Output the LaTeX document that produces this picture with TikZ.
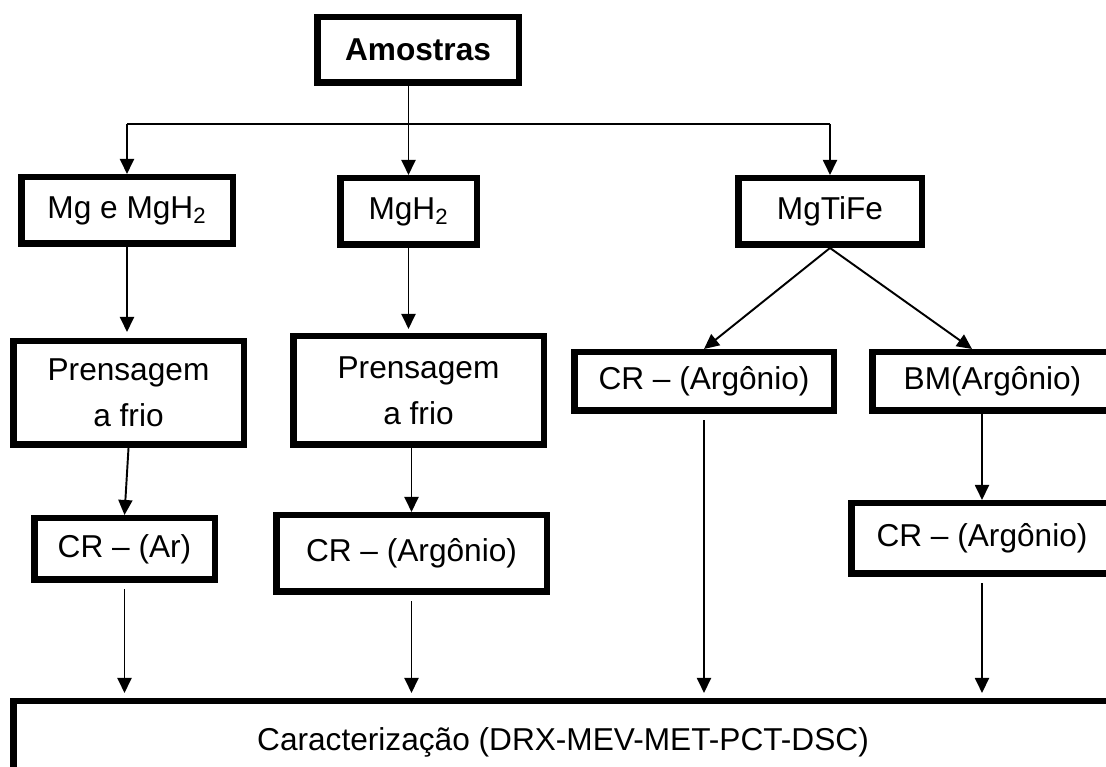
\documentclass[tikz,border=0pt]{standalone}
\usepackage{fontspec}
\setmainfont{Liberation Sans}
\usepackage{tikz}
\usetikzlibrary{arrows.meta}

\begin{document}
\begin{tikzpicture}[>={Triangle[width=0.28cm,length=0.3cm]}, line width=1.1pt,
  box/.style={draw, line width=3.7pt, inner sep=0pt, align=center,
    font=\fontsize{18}{26}\selectfont},
  gap/.style={shorten <=0.13cm, shorten >=0.1cm}]
\useasboundingbox (0,0) rectangle (22.12,15.34);
\node[box, font=\fontsize{18}{26}\selectfont\bfseries, minimum width=4.03cm, minimum height=1.31cm] (am) at (8.36,14.34) {Amostras};
\node[box, minimum width=4.23cm, minimum height=1.33cm] (mg) at (2.54,11.13) {Mg e MgH\textsubscript{2}};
\node[box, minimum width=2.73cm, minimum height=1.33cm] (mgh) at (8.17,11.11) {MgH\textsubscript{2}};
\node[box, minimum width=3.67cm, minimum height=1.33cm] (tife) at (16.6,11.11) {MgTiFe};
\node[box, minimum width=4.61cm, minimum height=2.07cm] (pf1) at (2.57,7.48) {Prensagem\\a frio};
\node[box, minimum width=5.01cm, minimum height=2.17cm] (pf2) at (8.37,7.53) {Prensagem\\a frio};
\node[box, minimum width=5.19cm, minimum height=1.17cm] (cr3) at (14.08,7.71) {CR -- (Argônio)};
\node[box, minimum width=4.81cm, minimum height=1.17cm] (bm) at (19.85,7.71) {BM(Argônio)};
\node[box, minimum width=5.23cm, minimum height=1.41cm] (cr4) at (19.64,4.57) {CR -- (Argônio)};
\node[box, minimum width=3.61cm, minimum height=1.23cm] (cr1) at (2.49,4.36) {CR -- (Ar)};
\node[box, minimum width=5.41cm, minimum height=1.53cm] (cr2) at (8.23,4.27) {CR -- (Argônio)};
\node[box, minimum width=21.99cm, minimum height=1.63cm] (car) at (11.26,0.5) {Caracterização (DRX-MEV-MET-PCT-DSC)};
% split below the top box
\coordinate (sp) at (8.17,12.86);
\draw[->] (am.south -| mgh.north) -- (mgh.north);
\draw (sp -| mg.north) -- (sp -| tife.north);
\draw[->] (sp -| mg.north) -- (mg.north);
\draw[->] (sp -| tife.north) -- (tife.north);
\draw[->, shorten >=0.12cm] (mg.south) -- (mg.south |- pf1.north);
\draw[->, shorten >=0.08cm] (mgh.south) -- (mgh.south |- pf2.north);
\draw[->] (tife.south) -- (cr3.north);
\draw[->] (tife.south) -- ([xshift=-0.41cm]bm.north);
\draw[->] (pf1.south) -- (cr1.north);
\draw[->] (pf2.south -| cr2.north) -- (cr2.north);
\draw[->] (cr4.north |- bm.south) -- (cr4.north);
\foreach \n in {cr1,cr2,cr3,cr4} {
  \draw[->, gap] (\n.south) -- (\n.south |- car.north);
}
\end{tikzpicture}
\end{document}
